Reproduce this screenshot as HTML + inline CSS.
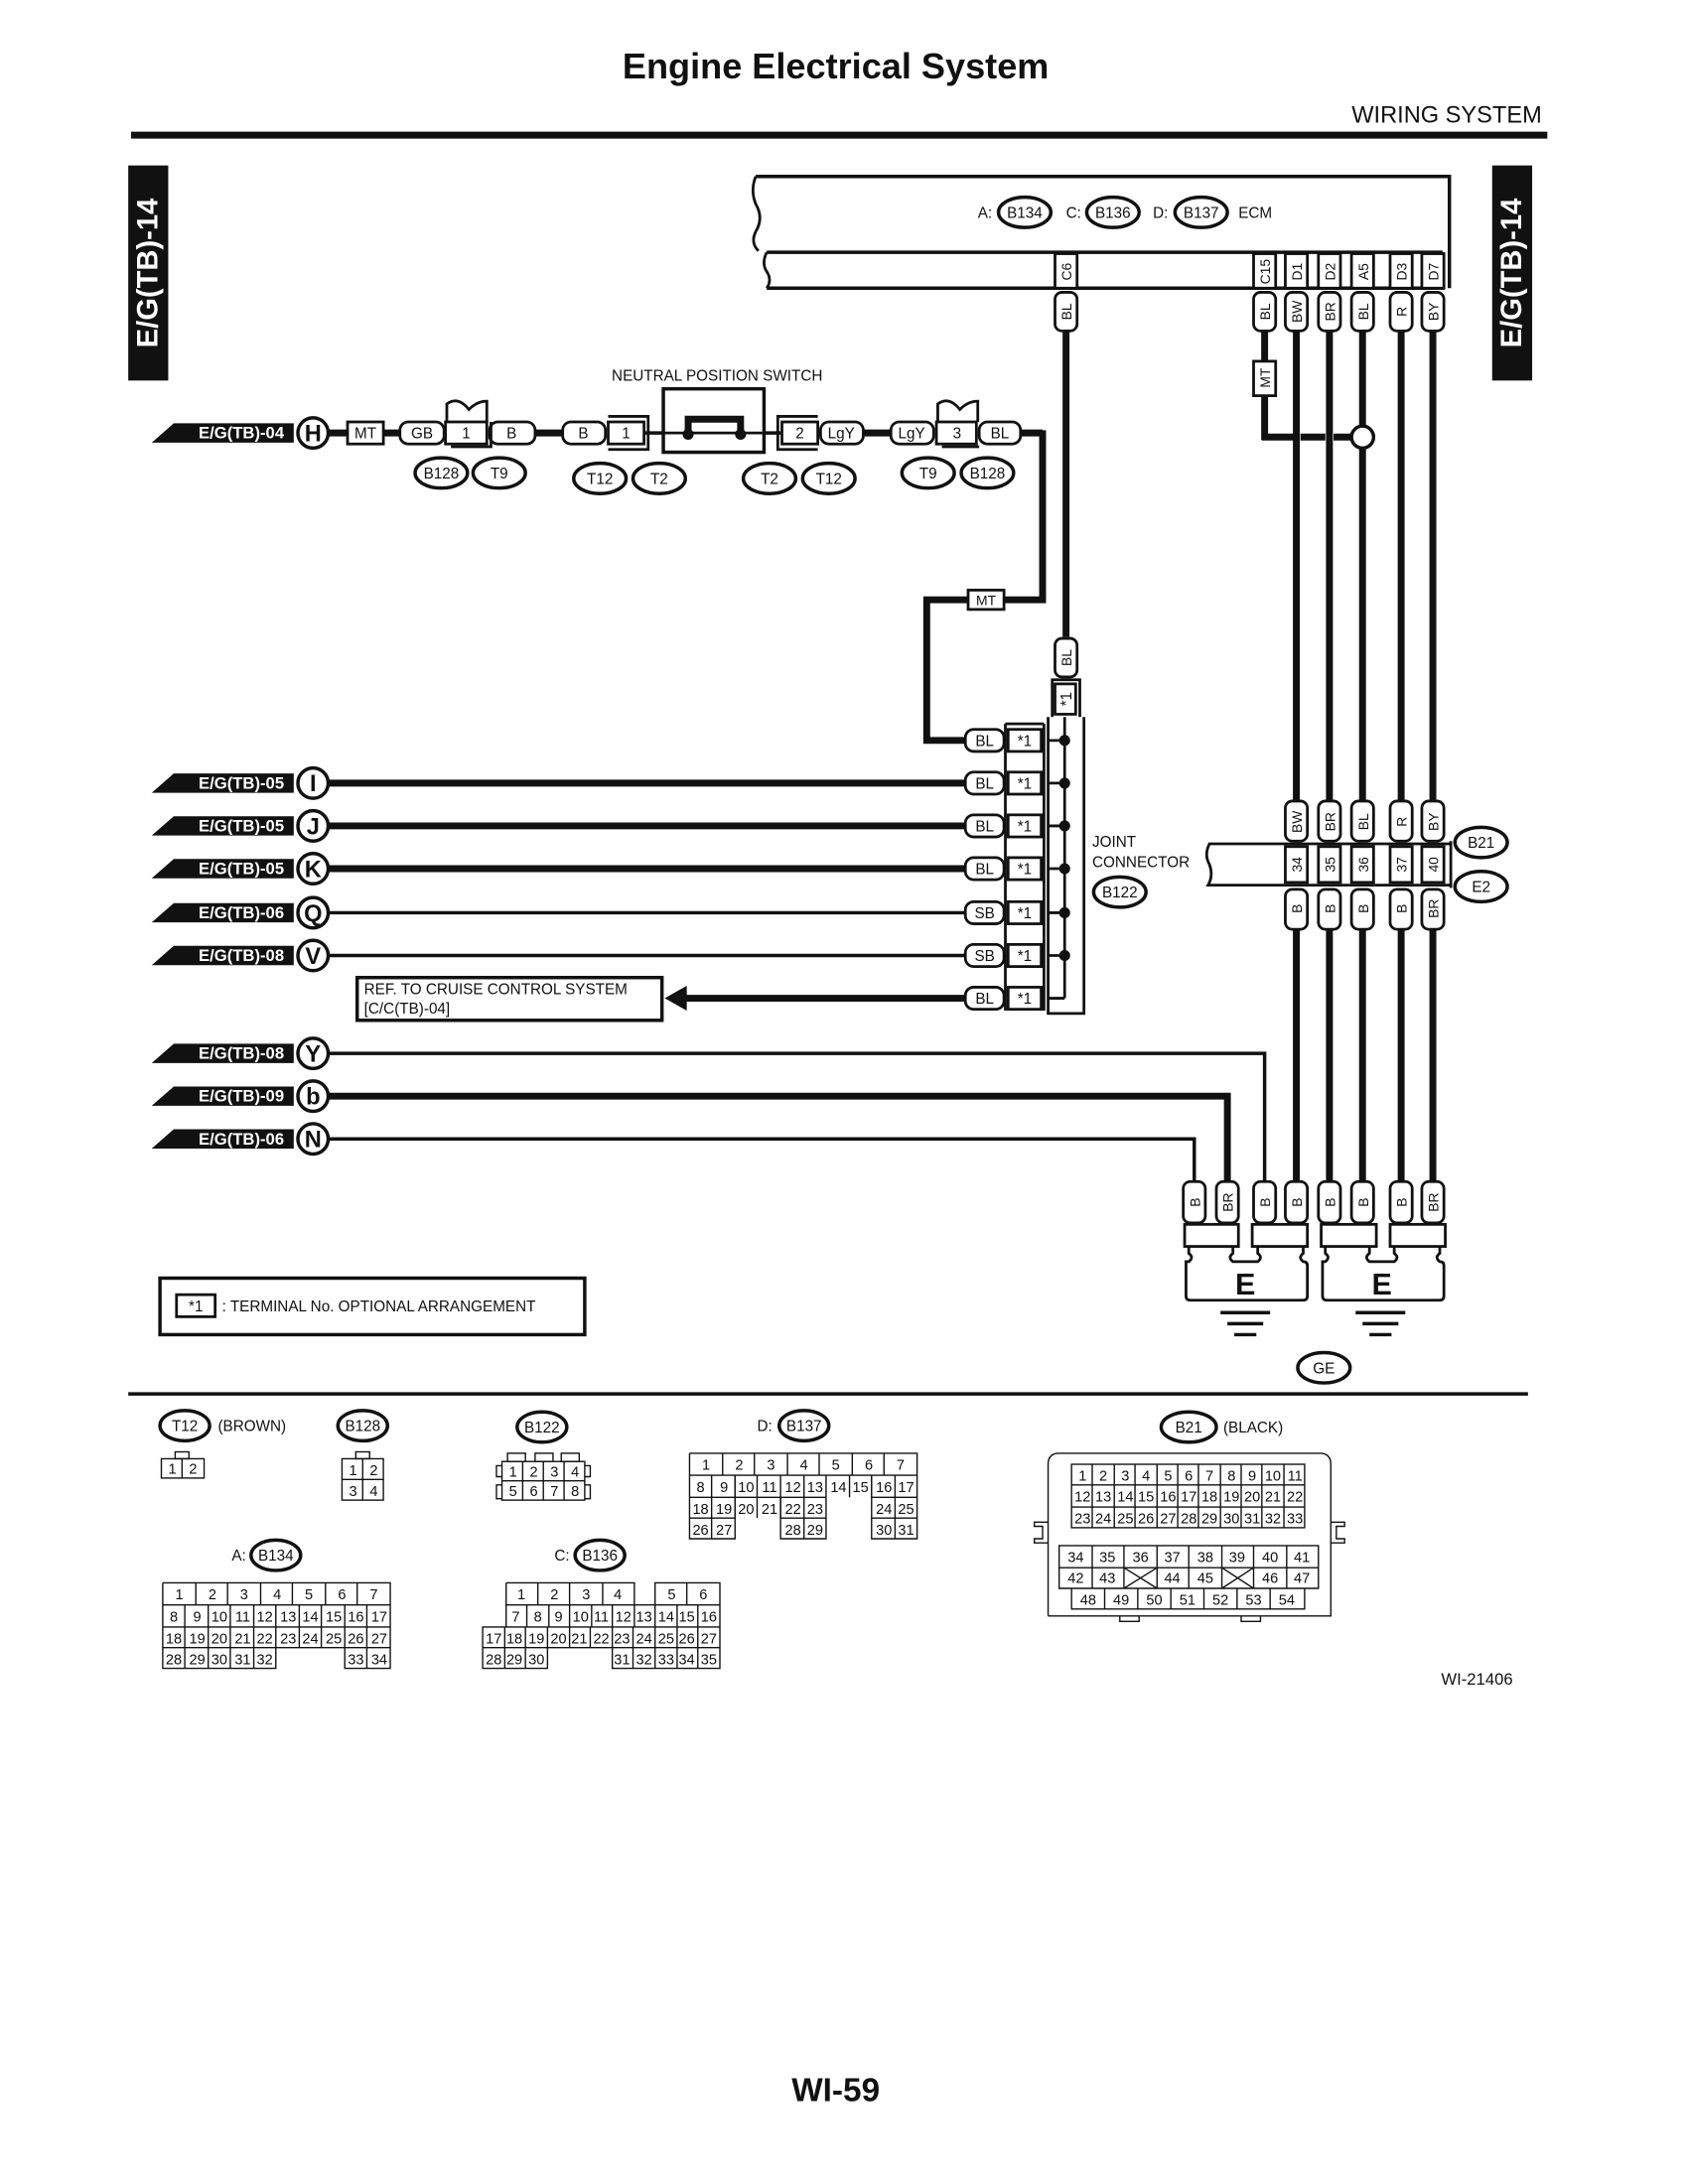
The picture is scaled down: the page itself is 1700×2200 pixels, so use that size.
<!DOCTYPE html>
<html><head><meta charset="utf-8"><style>
html,body{margin:0;padding:0;background:#fff}
svg{display:block}
text{font-family:"Liberation Sans",Arial,sans-serif;fill:#111}
.s{font-size:11px}.t{font-size:10px}.g{font-size:10.5px}
text.tab,.tab text{font-size:12px;font-weight:bold;fill:#fff}
</style></head><body>
<svg width="1700" height="2200" viewBox="0 0 1224 1584" xmlns="http://www.w3.org/2000/svg">
<g stroke="#111" fill="none">
<!-- header -->
<text x="606" y="57" text-anchor="middle" stroke="none" style="font-size:26px;font-weight:bold">Engine Electrical System</text>
<text x="1118" y="89" text-anchor="end" stroke="none" style="font-size:17px">WIRING SYSTEM</text>
<line x1="95" y1="98" x2="1122" y2="98" stroke-width="5"/>
<!-- side tabs -->
<rect x="93" y="120" width="29" height="156" fill="#111" stroke="none"/>
<text transform="translate(114,198) rotate(-90)" text-anchor="middle" class="tab" stroke="none" style="font-size:21px;font-weight:bold">E/G(TB)-14</text>
<rect x="1082" y="120" width="29" height="156" fill="#111" stroke="none"/>
<text transform="translate(1103,198) rotate(-90)" text-anchor="middle" class="tab" stroke="none" style="font-size:21px;font-weight:bold">E/G(TB)-14</text>

<!-- ECM -->
<path d="M548 128 H1051 V209" stroke-width="2.5"/>
<path d="M548 128 q-4 10 0 20 q6 10 0 20 q-4 8 2 14" stroke-width="2"/>
<path d="M556 183 H1046" stroke-width="2.5"/>
<path d="M556 183 q-4 8 0 14 q4 6 0 12" stroke-width="2"/>
<path d="M556 209 H1046 V183" stroke-width="2.5"/>
<g stroke="none" class="s">
<text x="709" y="158">A:</text><text x="773" y="158">C:</text><text x="836" y="158">D:</text><text x="898" y="158">ECM</text>
<text x="743" y="158" text-anchor="middle">B134</text><text x="807" y="158" text-anchor="middle">B136</text><text x="871" y="158" text-anchor="middle">B137</text>
</g>
<ellipse cx="743" cy="154" rx="19" ry="11" stroke-width="2.5"/>
<ellipse cx="807" cy="154" rx="19" ry="11" stroke-width="2.5"/>
<ellipse cx="871" cy="154" rx="19" ry="11" stroke-width="2.5"/>
<!-- ECM pins -->
<g stroke-width="2" fill="#fff">
<rect x="765" y="184" width="16" height="25"/><rect x="909" y="184" width="16" height="25"/><rect x="932" y="184" width="16" height="25"/>
<rect x="956" y="184" width="16" height="25"/><rect x="980" y="184" width="16" height="25"/><rect x="1008" y="184" width="16" height="25"/><rect x="1031" y="184" width="16" height="25"/>
</g>
<g stroke="none" class="t" text-anchor="middle">
<text transform="translate(777,197) rotate(-90)">C6</text><text transform="translate(921,197) rotate(-90)">C15</text><text transform="translate(944,197) rotate(-90)">D1</text>
<text transform="translate(968,197) rotate(-90)">D2</text><text transform="translate(992,197) rotate(-90)">A5</text><text transform="translate(1020,197) rotate(-90)">D3</text><text transform="translate(1043,197) rotate(-90)">D7</text>
</g>
<!-- wires from ECM -->
<g stroke-width="5">
<line x1="773" y1="240" x2="773" y2="462"/>
<line x1="940" y1="240" x2="940" y2="580"/><line x1="964" y1="240" x2="964" y2="580"/>
<line x1="988" y1="240" x2="988" y2="580"/><line x1="1016" y1="240" x2="1016" y2="580"/><line x1="1039" y1="240" x2="1039" y2="580"/>
<line x1="917" y1="240" x2="917" y2="319"/>
<line x1="915" y1="317" x2="938" y2="317"/><line x1="943" y1="317" x2="961" y2="317"/><line x1="967" y1="317" x2="981" y2="317"/>
</g>
<circle cx="988" cy="317" r="8" fill="#fff" stroke-width="2.5"/>
<g stroke-width="2" fill="#fff">
<rect x="765" y="212" width="16" height="28" rx="5"/><rect x="909" y="212" width="16" height="28" rx="5"/><rect x="932" y="212" width="16" height="28" rx="5"/>
<rect x="956" y="212" width="16" height="28" rx="5"/><rect x="980" y="212" width="16" height="28" rx="5"/><rect x="1008" y="212" width="16" height="28" rx="5"/><rect x="1031" y="212" width="16" height="28" rx="5"/>
<rect x="909" y="262" width="16" height="25"/>
</g>
<g stroke="none" class="t" text-anchor="middle">
<text transform="translate(777,226) rotate(-90)">BL</text><text transform="translate(921,226) rotate(-90)">BL</text><text transform="translate(944,226) rotate(-90)">BW</text>
<text transform="translate(968,226) rotate(-90)">BR</text><text transform="translate(992,226) rotate(-90)">BL</text><text transform="translate(1020,226) rotate(-90)">R</text><text transform="translate(1043,226) rotate(-90)">BY</text>
<text transform="translate(921,274) rotate(-90)">MT</text>
</g>

<!-- H row -->
<polygon points="110,321 126,307 213,307 213,321" fill="#111" stroke="none"/>
<text x="175" y="318" text-anchor="middle" class="tab" stroke="none">E/G(TB)-04</text>
<g stroke-width="5">
<line x1="238" y1="314" x2="290" y2="314"/><line x1="388" y1="314" x2="408" y2="314"/>
<line x1="626" y1="314" x2="646" y2="314"/><line x1="740" y1="314" x2="756" y2="314"/>
<polyline points="756,312 756,435 672,435 672,537 700,537"/>
</g>
<line x1="468" y1="314" x2="566" y2="314" stroke-width="2.5"/>
<circle cx="227" cy="314" r="11" fill="#fff" stroke-width="2.5"/>
<text x="227" y="320" text-anchor="middle" stroke="none" style="font-size:17px;font-weight:bold">H</text>
<rect x="252" y="306" width="26" height="16" fill="#fff" stroke-width="2"/>
<g fill="#fff" stroke-width="2">
<rect x="290" y="306" width="32" height="16" rx="6"/><rect x="355" y="306" width="33" height="16" rx="6"/>
<rect x="408" y="306" width="31" height="16" rx="6"/>
<rect x="595" y="306" width="31" height="16" rx="6"/><rect x="646" y="306" width="31" height="16" rx="6"/><rect x="710" y="306" width="30" height="16" rx="6"/>
<rect x="323" y="306" width="30" height="16"/><rect x="441" y="306" width="26" height="16"/><rect x="567" y="306" width="26" height="16"/><rect x="679" y="306" width="29" height="16"/>
</g>
<path d="M324 306 V293 q8 -6 16 4 q6 -6 13 -6 V306 M327 324 H356 V306" stroke-width="2"/>
<path d="M680 306 V293 q8 -6 16 4 q6 -6 13 -6 V306 M683 324 H710" stroke-width="2"/>
<path d="M441 302 H470 V326 H441" stroke-width="2"/>
<path d="M593 302 H564 V326 H593" stroke-width="2"/>
<rect x="481" y="282" width="73" height="46" fill="#fff" stroke-width="2.5"/>
<line x1="468" y1="314" x2="566" y2="314" stroke-width="2"/>
<path d="M499 316 V304 H537 V316" stroke-width="5"/>
<circle cx="499" cy="315" r="3.5" fill="#111"/><circle cx="537" cy="315" r="3.5" fill="#111"/>
<g stroke="none" class="s" text-anchor="middle">
<text x="265" y="318">MT</text><text x="306" y="318">GB</text><text x="338" y="318">1</text><text x="371" y="318">B</text>
<text x="423" y="318">B</text><text x="454" y="318">1</text><text x="580" y="318">2</text><text x="610" y="318">LgY</text>
<text x="661" y="318">LgY</text><text x="694" y="318">3</text><text x="725" y="318">BL</text>
<text x="520" y="276">NEUTRAL POSITION SWITCH</text>
<text x="320" y="347">B128</text><text x="362" y="347">T9</text><text x="435" y="351">T12</text><text x="478" y="351">T2</text>
<text x="558" y="351">T2</text><text x="601" y="351">T12</text><text x="673" y="347">T9</text><text x="716" y="347">B128</text>
</g>
<g stroke-width="2.5">
<ellipse cx="320" cy="343" rx="19" ry="11"/><ellipse cx="362" cy="343" rx="19" ry="11"/>
<ellipse cx="435" cy="347" rx="19" ry="11"/><ellipse cx="478" cy="347" rx="19" ry="11"/>
<ellipse cx="558" cy="347" rx="19" ry="11"/><ellipse cx="601" cy="347" rx="19" ry="11"/>
<ellipse cx="673" cy="343" rx="19" ry="11"/><ellipse cx="716" cy="343" rx="19" ry="11"/>
</g>
<rect x="702" y="428" width="26" height="14" fill="#fff" stroke-width="2"/>
<text x="715" y="439" text-anchor="middle" stroke="none" class="t">MT</text>

<!-- joint connector -->
<rect x="765" y="463" width="16" height="28" rx="5" fill="#fff" stroke-width="2"/>
<text transform="translate(777,477) rotate(-90)" text-anchor="middle" stroke="none" class="t">BL</text>
<path d="M763 520 V493 H783 V520" stroke-width="2"/>
<rect x="765" y="496" width="15" height="22" stroke-width="2"/>
<text transform="translate(777,507) rotate(-90)" text-anchor="middle" stroke="none" class="s">*1</text>
<path d="M729 525 V733 M757 525 V733 M729 525 H757" stroke-width="2"/>
<path d="M760 520 V735 H786 V520" stroke-width="2"/>
<line x1="772" y1="520" x2="772" y2="724" stroke-width="2"/>
<g stroke-width="5">
<line x1="238" y1="568" x2="700" y2="568"/><line x1="238" y1="599" x2="700" y2="599"/><line x1="238" y1="630" x2="700" y2="630"/>
<line x1="495" y1="724" x2="700" y2="724"/>
<polyline points="238,795 890,795 890,857"/>
</g>
<g stroke-width="2.5">
<line x1="238" y1="662" x2="700" y2="662"/><line x1="238" y1="693" x2="700" y2="693"/>
<polyline points="238,764 917,764 917,857"/>
<polyline points="238,826 866,826 866,857"/>
</g>
<polygon points="482,724 498,715 498,733" fill="#111" stroke="none"/>
<rect x="259" y="709" width="221" height="31" fill="#fff" stroke-width="2.5"/>
<text x="264" y="721" stroke="none" class="s">REF. TO CRUISE CONTROL SYSTEM</text>
<text x="264" y="735" stroke="none" class="s">[C/C(TB)-04]</text>
<g fill="#111" stroke="none">
<polygon points="110,575 126,561 213,561 213,575"/><polygon points="110,606 126,592 213,592 213,606"/>
<polygon points="110,637 126,623 213,623 213,637"/><polygon points="110,669 126,655 213,655 213,669"/>
<polygon points="110,700 126,686 213,686 213,700"/><polygon points="110,771 126,757 213,757 213,771"/>
<polygon points="110,802 126,788 213,788 213,802"/><polygon points="110,833 126,819 213,819 213,833"/>
</g>
<g stroke="none" text-anchor="middle">
<text class="tab" x="175" y="572">E/G(TB)-05</text><text class="tab" x="175" y="603">E/G(TB)-05</text><text class="tab" x="175" y="634">E/G(TB)-05</text>
<text class="tab" x="175" y="666">E/G(TB)-06</text><text class="tab" x="175" y="697">E/G(TB)-08</text><text class="tab" x="175" y="768">E/G(TB)-08</text>
<text class="tab" x="175" y="799">E/G(TB)-09</text><text class="tab" x="175" y="830">E/G(TB)-06</text>
</g>
<g fill="#fff" stroke-width="2.5">
<circle cx="227" cy="568" r="11"/><circle cx="227" cy="599" r="11"/><circle cx="227" cy="630" r="11"/><circle cx="227" cy="662" r="11"/>
<circle cx="227" cy="693" r="11"/><circle cx="227" cy="764" r="11"/><circle cx="227" cy="795" r="11"/><circle cx="227" cy="826" r="11"/>
</g>
<g stroke="none" text-anchor="middle" style="font-size:17px;font-weight:bold">
<text x="227" y="574">I</text><text x="227" y="605">J</text><text x="227" y="636">K</text><text x="227" y="668">Q</text>
<text x="227" y="699">V</text><text x="227" y="770">Y</text><text x="227" y="801">b</text><text x="227" y="832">N</text>
</g>
<g fill="#fff" stroke-width="2">
<rect x="700" y="529" width="28" height="16" rx="6"/><rect x="700" y="560" width="28" height="16" rx="6"/><rect x="700" y="591" width="28" height="16" rx="6"/>
<rect x="700" y="622" width="28" height="16" rx="6"/><rect x="700" y="654" width="28" height="16" rx="6"/><rect x="700" y="685" width="28" height="16" rx="6"/><rect x="700" y="716" width="28" height="16" rx="6"/>
<rect x="731" y="529" width="24" height="16"/><rect x="731" y="560" width="24" height="16"/><rect x="731" y="591" width="24" height="16"/>
<rect x="731" y="622" width="24" height="16"/><rect x="731" y="654" width="24" height="16"/><rect x="731" y="685" width="24" height="16"/><rect x="731" y="716" width="24" height="16"/>
</g>
<g stroke-width="2">
<line x1="760" y1="537" x2="772" y2="537"/><line x1="760" y1="568" x2="772" y2="568"/><line x1="760" y1="599" x2="772" y2="599"/>
<line x1="760" y1="630" x2="772" y2="630"/><line x1="760" y1="662" x2="772" y2="662"/><line x1="760" y1="693" x2="772" y2="693"/><line x1="760" y1="724" x2="772" y2="724"/>
</g>
<g fill="#111" stroke="none">
<circle cx="772" cy="537" r="4"/><circle cx="772" cy="568" r="4"/><circle cx="772" cy="599" r="4"/><circle cx="772" cy="630" r="4"/><circle cx="772" cy="662" r="4"/><circle cx="772" cy="693" r="4"/>
</g>
<g stroke="none" class="s" text-anchor="middle">
<text x="714" y="541">BL</text><text x="714" y="572">BL</text><text x="714" y="603">BL</text><text x="714" y="634">BL</text>
<text x="714" y="666">SB</text><text x="714" y="697">SB</text><text x="714" y="728">BL</text>
<text x="743" y="541">*1</text><text x="743" y="572">*1</text><text x="743" y="603">*1</text><text x="743" y="634">*1</text>
<text x="743" y="666">*1</text><text x="743" y="697">*1</text><text x="743" y="728">*1</text>
</g>
<g stroke="none" class="s">
<text x="792" y="614">JOINT</text><text x="792" y="629">CONNECTOR</text>
<text x="812" y="651" text-anchor="middle">B122</text>
</g>
<ellipse cx="812" cy="647" rx="19" ry="11" stroke-width="2.5"/>

<!-- B21 / E2 -->
<path d="M1052 612 H877 q-4 8 0 15 q3 8 -1 15 H1052" stroke-width="2"/>
<line x1="1052" y1="610" x2="1052" y2="644" stroke-width="2"/>
<g fill="#fff" stroke-width="2">
<rect x="932" y="614" width="16" height="26"/><rect x="956" y="614" width="16" height="26"/><rect x="980" y="614" width="16" height="26"/>
<rect x="1008" y="614" width="16" height="26"/><rect x="1031" y="614" width="16" height="26"/>
<rect x="932" y="581" width="16" height="29" rx="5"/><rect x="956" y="581" width="16" height="29" rx="5"/><rect x="980" y="581" width="16" height="29" rx="5"/>
<rect x="1008" y="581" width="16" height="29" rx="5"/><rect x="1031" y="581" width="16" height="29" rx="5"/>
<rect x="932" y="645" width="16" height="29" rx="5"/><rect x="956" y="645" width="16" height="29" rx="5"/><rect x="980" y="645" width="16" height="29" rx="5"/>
<rect x="1008" y="645" width="16" height="29" rx="5"/><rect x="1031" y="645" width="16" height="29" rx="5"/>
</g>
<g stroke="none" class="t" text-anchor="middle">
<text transform="translate(944,596) rotate(-90)">BW</text><text transform="translate(968,596) rotate(-90)">BR</text><text transform="translate(992,596) rotate(-90)">BL</text>
<text transform="translate(1020,596) rotate(-90)">R</text><text transform="translate(1043,596) rotate(-90)">BY</text>
<text transform="translate(944,627) rotate(-90)">34</text><text transform="translate(968,627) rotate(-90)">35</text><text transform="translate(992,627) rotate(-90)">36</text>
<text transform="translate(1020,627) rotate(-90)">37</text><text transform="translate(1043,627) rotate(-90)">40</text>
<text transform="translate(944,659) rotate(-90)">B</text><text transform="translate(968,659) rotate(-90)">B</text><text transform="translate(992,659) rotate(-90)">B</text>
<text transform="translate(1020,659) rotate(-90)">B</text><text transform="translate(1043,659) rotate(-90)">BR</text>
</g>
<g stroke-width="5">
<line x1="940" y1="674" x2="940" y2="857"/><line x1="964" y1="674" x2="964" y2="857"/><line x1="988" y1="674" x2="988" y2="857"/>
<line x1="1016" y1="674" x2="1016" y2="857"/><line x1="1039" y1="674" x2="1039" y2="857"/>
</g>
<ellipse cx="1074" cy="611" rx="19" ry="11" stroke-width="2.5"/><ellipse cx="1074" cy="643" rx="19" ry="11" stroke-width="2.5"/>
<text x="1074" y="615" text-anchor="middle" stroke="none" class="s">B21</text><text x="1074" y="647" text-anchor="middle" stroke="none" class="s">E2</text>

<!-- grounds -->
<g fill="#fff" stroke-width="2">
<rect x="858" y="857" width="16" height="30" rx="5"/><rect x="882" y="857" width="16" height="30" rx="5"/><rect x="909" y="857" width="16" height="30" rx="5"/>
<rect x="932" y="857" width="16" height="30" rx="5"/><rect x="956" y="857" width="16" height="30" rx="5"/><rect x="980" y="857" width="16" height="30" rx="5"/>
<rect x="1008" y="857" width="16" height="30" rx="5"/><rect x="1031" y="857" width="16" height="30" rx="5"/>
<rect x="859" y="888" width="39" height="16"/><rect x="908" y="888" width="40" height="16"/><rect x="958" y="888" width="40" height="16"/><rect x="1008" y="888" width="40" height="16"/>
</g>
<g stroke="none" class="t" text-anchor="middle">
<text transform="translate(870,872) rotate(-90)">B</text><text transform="translate(894,872) rotate(-90)">BR</text><text transform="translate(921,872) rotate(-90)">B</text>
<text transform="translate(944,872) rotate(-90)">B</text><text transform="translate(968,872) rotate(-90)">B</text><text transform="translate(992,872) rotate(-90)">B</text>
<text transform="translate(1020,872) rotate(-90)">B</text><text transform="translate(1043,872) rotate(-90)">BR</text>
</g>
<path d="M862 904 V909 q4 3 0 6 H860 V940 Q860 943 863 943 H945 Q948 943 948 940 V918 Q948 915 945 915 q-4 -3 0 -6 V904 M894 904 V909 q-4 3 0 6 H912 q4 -3 0 -6 V904" stroke-width="2"/>
<path d="M961 904 V909 q4 3 0 6 H959 V940 Q959 943 962 943 H1044 Q1047 943 1047 940 V918 Q1047 915 1044 915 q-4 -3 0 -6 V904 M993 904 V909 q-4 3 0 6 H1011 q4 -3 0 -6 V904" stroke-width="2"/>
<text x="903" y="939" text-anchor="middle" stroke="none" style="font-size:22px;font-weight:bold">E</text>
<text x="1002" y="939" text-anchor="middle" stroke="none" style="font-size:22px;font-weight:bold">E</text>
<g stroke-width="2.5">
<line x1="885" y1="952" x2="921" y2="952"/><line x1="890" y1="960" x2="916" y2="960"/><line x1="895" y1="968" x2="911" y2="968"/>
<line x1="983" y1="952" x2="1019" y2="952"/><line x1="988" y1="960" x2="1014" y2="960"/><line x1="993" y1="968" x2="1009" y2="968"/>
</g>
<ellipse cx="960" cy="992" rx="19" ry="11" stroke-width="2.5"/>
<text x="960" y="996" text-anchor="middle" stroke="none" class="s">GE</text>

<!-- legend -->
<rect x="116" y="927" width="308" height="41" stroke-width="2.5"/>
<rect x="128" y="939" width="28" height="16" stroke-width="2"/>
<text x="142" y="951" text-anchor="middle" stroke="none" class="s">*1</text>
<text x="161" y="951" stroke="none" class="s">: TERMINAL No. OPTIONAL ARRANGEMENT</text>

<line x1="93" y1="1011" x2="1108" y2="1011" stroke-width="2.5"/>

<!-- connector diagrams -->
<g stroke-width="2.5">
<ellipse cx="134" cy="1034" rx="18" ry="11"/><ellipse cx="263" cy="1034" rx="18" ry="11"/><ellipse cx="393" cy="1035" rx="18" ry="11"/>
<ellipse cx="583" cy="1034" rx="18" ry="11"/><ellipse cx="200" cy="1128" rx="18" ry="11"/><ellipse cx="435" cy="1128" rx="18" ry="11"/>
<ellipse cx="862" cy="1035" rx="20" ry="11"/>
</g>
<g stroke="none" class="s">
<text x="134" y="1038" text-anchor="middle">T12</text><text x="158" y="1038">(BROWN)</text>
<text x="263" y="1038" text-anchor="middle">B128</text><text x="393" y="1039" text-anchor="middle">B122</text>
<text x="549" y="1038">D:</text><text x="583" y="1038" text-anchor="middle">B137</text>
<text x="168" y="1132">A:</text><text x="200" y="1132" text-anchor="middle">B134</text>
<text x="402" y="1132">C:</text><text x="435" y="1132" text-anchor="middle">B136</text>
<text x="862" y="1039" text-anchor="middle">B21</text><text x="887" y="1039">(BLACK)</text>
</g>
<g stroke-width="1">
<rect x="117" y="1058" width="31" height="14"/><line x1="132" y1="1058" x2="132" y2="1072"/><rect x="127" y="1053" width="10" height="5"/>
<rect x="248" y="1058" width="30" height="30"/><line x1="263" y1="1058" x2="263" y2="1088"/><line x1="248" y1="1073" x2="278" y2="1073"/><rect x="258" y="1053" width="10" height="5"/>
<rect x="364" y="1060" width="60" height="28"/><line x1="379" y1="1060" x2="379" y2="1088"/><line x1="394" y1="1060" x2="394" y2="1088"/><line x1="409" y1="1060" x2="409" y2="1088"/><line x1="364" y1="1074" x2="424" y2="1074"/>
<rect x="368" y="1054" width="13" height="6"/><rect x="388" y="1054" width="13" height="6"/><rect x="407" y="1054" width="13" height="6"/>
<path d="M364 1063 H360 V1071 H364 M364 1077 H360 V1087 H364 M424 1063 H428 V1071 H424 M424 1077 H428 V1087 H424"/>
</g>
<g stroke="none" class="g" text-anchor="middle">
<text x="125" y="1069">1</text><text x="140" y="1069">2</text>
<text x="256" y="1070">1</text><text x="271" y="1070">2</text><text x="256" y="1085">3</text><text x="271" y="1085">4</text>
<text x="372" y="1071">1</text><text x="387" y="1071">2</text><text x="402" y="1071">3</text><text x="417" y="1071">4</text>
<text x="372" y="1085">5</text><text x="387" y="1085">6</text><text x="402" y="1085">7</text><text x="417" y="1085">8</text>
</g>

<!-- D:B137 grid -->
<g stroke-width="1">
<path d="M500 1054 H665 V1116 H632 V1070 M500 1054 V1116 H533 V1070 M500 1070 H665 M500 1086 H599 M632 1086 H665 M500 1101 H533 M566 1101 H599 M632 1101 H665 M566 1086 V1116 H599 V1086"/>
<path d="M524 1054 V1070 M547 1054 V1070 M571 1054 V1070 M594 1054 V1070 M618 1054 V1070 M641 1054 V1070"/>
<path d="M516 1070 V1116 M533 1070 V1101 M549 1070 V1101 M566 1070 V1101 M583 1070 V1116 M599 1070 V1086 M616 1070 V1086 M632 1070 V1086 M649 1070 V1116"/>
</g>
<g stroke="none" class="g" text-anchor="middle">
<text x="512" y="1066">1</text><text x="536" y="1066">2</text><text x="559" y="1066">3</text><text x="583" y="1066">4</text><text x="606" y="1066">5</text><text x="630" y="1066">6</text><text x="653" y="1066">7</text>
<text x="508" y="1082">8</text><text x="525" y="1082">9</text><text x="541" y="1082">10</text><text x="558" y="1082">11</text><text x="575" y="1082">12</text><text x="591" y="1082">13</text><text x="608" y="1082">14</text><text x="624" y="1082">15</text><text x="641" y="1082">16</text><text x="657" y="1082">17</text>
<text x="508" y="1098">18</text><text x="525" y="1098">19</text><text x="541" y="1098">20</text><text x="558" y="1098">21</text><text x="575" y="1098">22</text><text x="591" y="1098">23</text><text x="641" y="1098">24</text><text x="657" y="1098">25</text>
<text x="508" y="1113">26</text><text x="525" y="1113">27</text><text x="575" y="1113">28</text><text x="591" y="1113">29</text><text x="641" y="1113">30</text><text x="657" y="1113">31</text>
</g>

<!-- A:B134 grid -->
<g stroke-width="1">
<path d="M118 1148 H283 V1210 H250 V1195 M118 1148 V1210 H200 V1195 M118 1164 H283 M118 1180 H283 M118 1195 H283"/>
<path d="M142 1148 V1164 M165 1148 V1164 M189 1148 V1164 M212 1148 V1164 M236 1148 V1164 M259 1148 V1164"/>
<path d="M134 1164 V1210 M151 1164 V1210 M167 1164 V1210 M184 1164 V1210 M200 1164 V1195 M217 1164 V1195 M233 1164 V1195 M250 1164 V1195 M266 1164 V1210"/>
</g>
<g stroke="none" class="g" text-anchor="middle">
<text x="130" y="1160">1</text><text x="154" y="1160">2</text><text x="177" y="1160">3</text><text x="201" y="1160">4</text><text x="224" y="1160">5</text><text x="248" y="1160">6</text><text x="271" y="1160">7</text>
<text x="126" y="1176">8</text><text x="143" y="1176">9</text><text x="159" y="1176">10</text><text x="176" y="1176">11</text><text x="192" y="1176">12</text><text x="209" y="1176">13</text><text x="225" y="1176">14</text><text x="242" y="1176">15</text><text x="258" y="1176">16</text><text x="275" y="1176">17</text>
<text x="126" y="1192">18</text><text x="143" y="1192">19</text><text x="159" y="1192">20</text><text x="176" y="1192">21</text><text x="192" y="1192">22</text><text x="209" y="1192">23</text><text x="225" y="1192">24</text><text x="242" y="1192">25</text><text x="258" y="1192">26</text><text x="275" y="1192">27</text>
<text x="126" y="1207">28</text><text x="143" y="1207">29</text><text x="159" y="1207">30</text><text x="176" y="1207">31</text><text x="192" y="1207">32</text><text x="258" y="1207">33</text><text x="275" y="1207">34</text>
</g>

<!-- C:B136 grid -->
<g stroke-width="1">
<path d="M367 1148 H460 V1164 M475 1164 V1148 H522 V1210 H444 V1195 M367 1148 V1180 H350 V1210 H397 V1195 M367 1164 H522 M350 1180 H522 M350 1195 H522"/>
<path d="M390 1148 V1164 M413 1148 V1164 M437 1148 V1164 M498 1148 V1164"/>
<path d="M382 1164 V1180 M398 1164 V1180 M413 1164 V1180 M429 1164 V1180 M444 1164 V1180 M460 1164 V1180 M475 1164 V1180 M491 1164 V1180 M506 1164 V1180"/>
<path d="M366 1180 V1210 M381 1180 V1210 M397 1180 V1195 M413 1180 V1195 M428 1180 V1195 M444 1180 V1195 M459 1180 V1210 M475 1180 V1210 M491 1180 V1210 M506 1180 V1210"/>
</g>
<g stroke="none" class="g" text-anchor="middle">
<text x="378" y="1160">1</text><text x="402" y="1160">2</text><text x="425" y="1160">3</text><text x="448" y="1160">4</text><text x="487" y="1160">5</text><text x="510" y="1160">6</text>
<text x="374" y="1176">7</text><text x="390" y="1176">8</text><text x="405" y="1176">9</text><text x="421" y="1176">10</text><text x="436" y="1176">11</text><text x="452" y="1176">12</text><text x="467" y="1176">13</text><text x="483" y="1176">14</text><text x="498" y="1176">15</text><text x="514" y="1176">16</text>
<text x="358" y="1192">17</text><text x="373" y="1192">18</text><text x="389" y="1192">19</text><text x="405" y="1192">20</text><text x="420" y="1192">21</text><text x="436" y="1192">22</text><text x="451" y="1192">23</text><text x="467" y="1192">24</text><text x="483" y="1192">25</text><text x="498" y="1192">26</text><text x="514" y="1192">27</text>
<text x="358" y="1207">28</text><text x="373" y="1207">29</text><text x="389" y="1207">30</text><text x="451" y="1207">31</text><text x="467" y="1207">32</text><text x="483" y="1207">33</text><text x="498" y="1207">34</text><text x="514" y="1207">35</text>
</g>

<!-- B21 -->
<g stroke-width="1">
<path d="M760 1172 V1062 Q760 1054 768 1054 H957 Q965 1054 965 1062 V1172 H760"/>
<path d="M760 1104 H750 V1107 H756 V1116 H750 V1119 H760 M965 1104 H975 V1107 H969 V1116 H975 V1119 H965"/>
<path d="M812 1172 V1176 H826 V1172 M900 1172 V1176 H914 V1172"/>
<rect x="777" y="1062" width="169" height="46"/>
<path d="M777 1077 H946 M777 1093 H946"/>
<path d="M792 1062 V1108 M808 1062 V1108 M823 1062 V1108 M839 1062 V1108 M854 1062 V1108 M869 1062 V1108 M885 1062 V1108 M900 1062 V1108 M915 1062 V1108 M931 1062 V1108"/>
<path d="M768 1121 H956 V1152 H946 V1167 H777 V1152 H768 Z M768 1137 H956 M777 1152 H946"/>
<path d="M792 1121 V1152 M815 1121 V1152 M839 1121 V1152 M862 1121 V1152 M886 1121 V1152 M909 1121 V1152 M933 1121 V1152"/>
<path d="M815 1137 L839 1152 M839 1137 L815 1152 M886 1137 L909 1152 M909 1137 L886 1152"/>
<path d="M801 1152 V1167 M825 1152 V1167 M849 1152 V1167 M873 1152 V1167 M897 1152 V1167 M921 1152 V1167"/>
</g>
<g stroke="none" class="g" text-anchor="middle">
<text x="785" y="1074">1</text><text x="800" y="1074">2</text><text x="816" y="1074">3</text><text x="831" y="1074">4</text><text x="847" y="1074">5</text><text x="862" y="1074">6</text><text x="877" y="1074">7</text><text x="893" y="1074">8</text><text x="908" y="1074">9</text><text x="923" y="1074">10</text><text x="939" y="1074">11</text>
<text x="785" y="1089">12</text><text x="800" y="1089">13</text><text x="816" y="1089">14</text><text x="831" y="1089">15</text><text x="847" y="1089">16</text><text x="862" y="1089">17</text><text x="877" y="1089">18</text><text x="893" y="1089">19</text><text x="908" y="1089">20</text><text x="923" y="1089">21</text><text x="939" y="1089">22</text>
<text x="785" y="1105">23</text><text x="800" y="1105">24</text><text x="816" y="1105">25</text><text x="831" y="1105">26</text><text x="847" y="1105">27</text><text x="862" y="1105">28</text><text x="877" y="1105">29</text><text x="893" y="1105">30</text><text x="908" y="1105">31</text><text x="923" y="1105">32</text><text x="939" y="1105">33</text>
<text x="780" y="1133">34</text><text x="803" y="1133">35</text><text x="827" y="1133">36</text><text x="850" y="1133">37</text><text x="874" y="1133">38</text><text x="897" y="1133">39</text><text x="921" y="1133">40</text><text x="944" y="1133">41</text>
<text x="780" y="1148">42</text><text x="803" y="1148">43</text><text x="850" y="1148">44</text><text x="874" y="1148">45</text><text x="921" y="1148">46</text><text x="944" y="1148">47</text>
<text x="789" y="1164">48</text><text x="813" y="1164">49</text><text x="837" y="1164">50</text><text x="861" y="1164">51</text><text x="885" y="1164">52</text><text x="909" y="1164">53</text><text x="933" y="1164">54</text>
</g>

<text x="1071" y="1222" text-anchor="middle" stroke="none" class="s" style="font-size:12px">WI-21406</text>
<text x="606" y="1524" text-anchor="middle" stroke="none" style="font-size:24px;font-weight:bold">WI-59</text>
</g>
</svg>
</body></html>
